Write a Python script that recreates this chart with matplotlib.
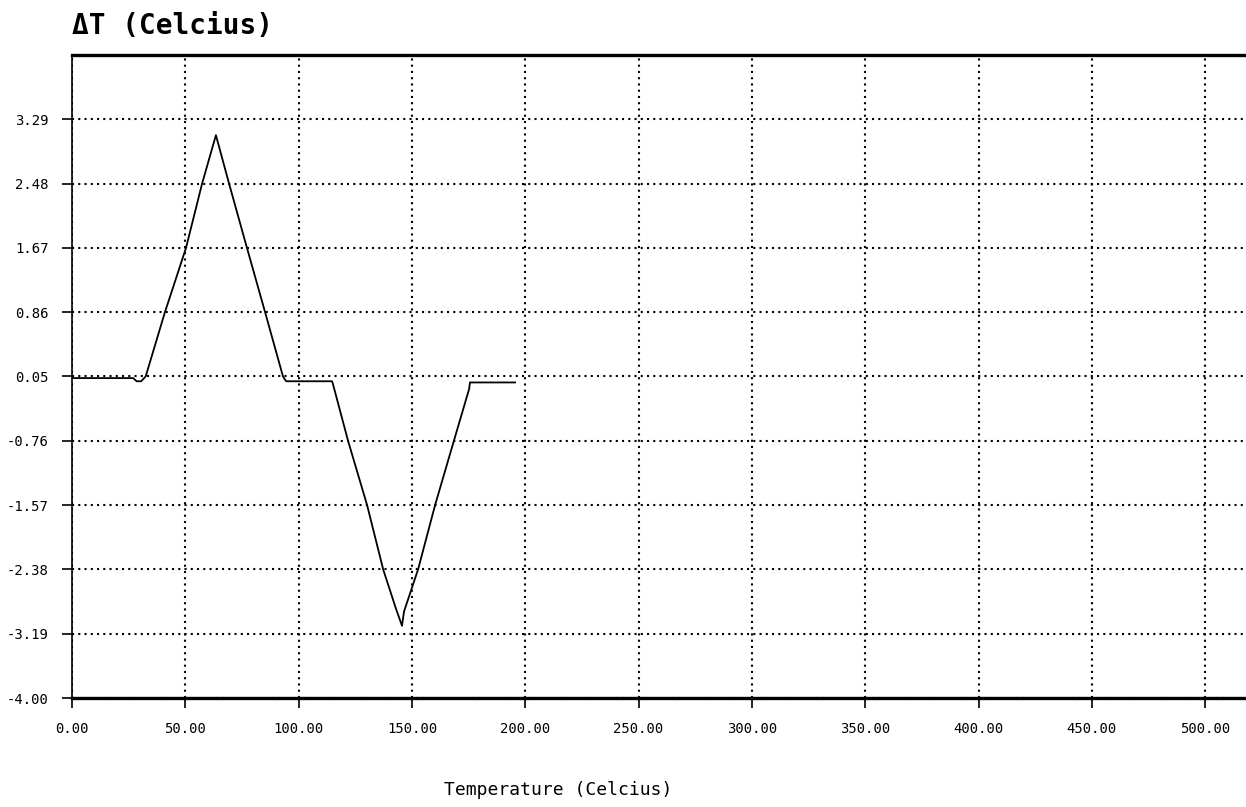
import matplotlib
matplotlib.use("Agg")
import matplotlib.pyplot as plt
import numpy as np

# Data
temperature = [0.0, 27.0, 28.5, 30.5, 32.5, 41.0, 50.3, 57.4, 63.5, 69.3, 77.2, 85.2,
               93.1, 94.5, 114.7, 115.0, 121.8, 130.2, 137.3, 143.0, 145.6, 146.5,
               152.7, 160.2, 168.5, 175.2, 175.6, 195.5]
delta_t = [0.03, 0.03, -0.01, -0.01, 0.05, 0.86, 1.67, 2.48, 3.09, 2.48, 1.67, 0.86,
           0.05, -0.01, -0.01, -0.03, -0.76, -1.57, -2.38, -2.88, -3.09, -2.91,
           -2.38, -1.57, -0.76, -0.11, -0.025, -0.025]

x_ticks = [0, 50, 100, 150, 200, 250, 300, 350, 400, 450, 500]
x_tick_labels = ["0.00", "50.00", "100.00", "150.00", "200.00", "250.00",
                 "300.00", "350.00", "400.00", "450.00", "500.00"]
y_ticks = [-4.00, -3.19, -2.38, -1.57, -0.76, 0.05, 0.86, 1.67, 2.48, 3.29]
y_tick_labels = ["-4.00", "-3.19", "-2.38", "-1.57", "-0.76", "0.05", "0.86",
                 "1.67", "2.48", "3.29"]

title_text = "\u0394T (Celcius)"
x_label = "Temperature (Celcius)"

mono = ["DejaVu Sans Mono"]

fig = plt.figure(figsize=(12.46, 8.07), dpi=100)
ax = fig.add_axes([72 / 1246, 109 / 807, 1 - 72 / 1246, (752 - 109) / 807])

ax.plot(temperature, delta_t, color="black", linewidth=1.3)

ax.set_xlim(0, 518)
ax.set_ylim(-4.00, 4.10)
ax.set_xticks(x_ticks)
ax.set_xticklabels(x_tick_labels, fontfamily=mono, fontsize=10)
ax.set_yticks(y_ticks)
ax.set_yticklabels(y_tick_labels, fontfamily=mono, fontsize=10)

ax.grid(True, color="black", linestyle=(0, (1.0, 2.0)), linewidth=1.5)
ax.tick_params(axis="both", direction="out", length=7, width=1.2, color="black", pad=10)

ax.spines["top"].set_linewidth(2.4)
ax.spines["bottom"].set_linewidth(2.4)
ax.spines["left"].set_linewidth(1.2)
ax.spines["right"].set_visible(False)

fig.text(72 / 1246, 1 - 26 / 807, title_text, fontfamily=mono, fontsize=20,
         fontweight="bold", ha="left", va="center")
fig.text(558 / 1246, 1 - 790 / 807, x_label, fontfamily=mono, fontsize=13,
         ha="center", va="center")

fig.savefig("out.png", dpi=100, facecolor="white")
